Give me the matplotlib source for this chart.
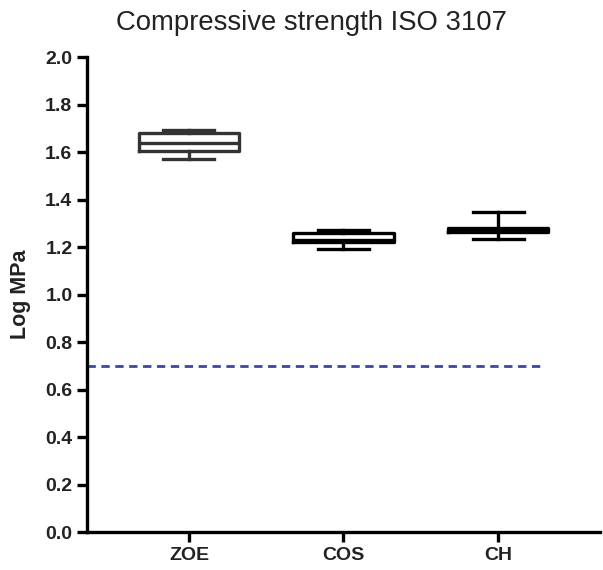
import matplotlib
matplotlib.use('Agg')
import matplotlib.pyplot as plt

plt.rcParams['font.family'] = ['Liberation Sans', 'DejaVu Sans']

groups = ['ZOE', 'COS', 'CH']
whislo = [1.569, 1.193, 1.236]
q1 = [1.604, 1.222, 1.262]
med = [1.639, 1.228, 1.270]
q3 = [1.681, 1.258, 1.280]
whishi = [1.693, 1.274, 1.347]
box_colors = ['#333333', '#000000', '#000000']
iso_limit = 0.699  # log10(5 MPa)

stats = []
for i, g in enumerate(groups):
    stats.append({'label': g, 'whislo': whislo[i], 'q1': q1[i], 'med': med[i],
                  'q3': q3[i], 'whishi': whishi[i], 'fliers': []})

fig = plt.figure(figsize=(6.03, 5.70), dpi=100)
ax = fig.add_axes([0.1443, 0.066, 0.8507, 0.834])

positions = [1, 2, 3]
for i in range(len(groups)):
    c = box_colors[i]
    ax.bxp([stats[i]], positions=[positions[i]], widths=0.65, showfliers=False,
           boxprops=dict(color=c, linewidth=2.4),
           medianprops=dict(color=c, linewidth=2.4),
           whiskerprops=dict(color=c, linewidth=2.4),
           capprops=dict(color=c, linewidth=2.4),
           capwidths=0.33, manage_ticks=False)

ax.axhline(iso_limit, xmin=0, xmax=0.883, color='#3a46a8', linestyle='--',
           linewidth=2, dashes=(3, 2))

ax.set_xlim(0.34, 3.66)
ax.set_ylim(0, 2.0)
ax.set_yticks([0.0, 0.2, 0.4, 0.6, 0.8, 1.0, 1.2, 1.4, 1.6, 1.8, 2.0])
ax.set_yticklabels([f'{v:.1f}' for v in ax.get_yticks()])
ax.set_xticks(positions)
ax.set_xticklabels(groups)

for s in ['top', 'right']:
    ax.spines[s].set_visible(False)
for s in ['left', 'bottom']:
    ax.spines[s].set_linewidth(2.4)
ax.tick_params(axis='both', width=2.4, length=7.5)
ax.tick_params(axis='y', labelsize=14, pad=3)
ax.tick_params(axis='x', labelsize=14, pad=3)
for lab in ax.get_xticklabels() + ax.get_yticklabels():
    lab.set_fontweight('bold')
    lab.set_color('#222222')

ax.set_ylabel('Log MPa', fontsize=15.5, fontweight='bold', labelpad=10, color='#222222')
fig.text(0.517, 0.96, 'Compressive strength ISO 3107', fontsize=19.8,
         ha='center', va='center', color='#222222')

fig.savefig('out.png', dpi=100)
